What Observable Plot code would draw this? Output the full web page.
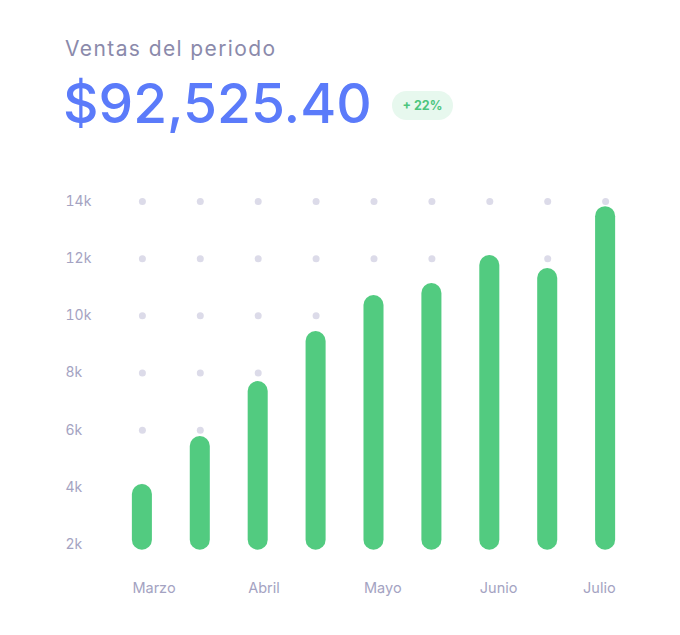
<!DOCTYPE html>
<html><head><meta charset="utf-8">
<script src="https://cdn.jsdelivr.net/npm/d3@7"></script>
<script src="https://cdn.jsdelivr.net/npm/@observablehq/plot@0.6"></script>
<style>
body{margin:0;background:#fff;font-family:Inter, "Open Sans", sans-serif;}
#wrap{position:relative;width:680px;height:635px;overflow:hidden;}
#title{position:absolute;left:65px;top:36px;font-size:21px;letter-spacing:1.4px;color:#8b8aab;white-space:nowrap;}
#total{position:absolute;left:63px;top:71px;font-size:55px;letter-spacing:0px;line-height:64px;color:#5b7bfa;font-weight:500;white-space:nowrap;}
#badge{position:absolute;left:392px;top:91px;width:61px;height:29px;border-radius:15px;background:#e7f8ee;color:#4cc57d;font-size:12.5px;font-weight:700;line-height:29px;text-align:center;}
#chart{position:absolute;left:0;top:160px;}
</style></head><body>
<div id="wrap"><div id="title"></div><div id="total"></div><div id="badge"></div><div id="chart"></div></div>
<script>
const titleText = "Ventas del periodo";
const totalText = "$92,525.40";
const badgeText = "+ 22%";
const periods = ["Mar-1","Mar-2","Abr-1","Abr-2","May-1","May-2","Jun-1","Jun-2","Jul-1"];
const sales = [4100, 5780, 7700, 9450, 10710, 11130, 12110, 11655, 13820];
const yTicks = [2000, 4000, 6000, 8000, 10000, 12000, 14000];
const monthPeriods = ["Mar-1","Abr-1","May-1","Jun-1"];
const monthLabels = ["Marzo","Abril","Mayo","Junio"];
const lastPeriod = ["Jul-1"];
const lastLabel = "Julio";
const baseline = 1800;

document.getElementById("title").textContent = titleText;
document.getElementById("total").textContent = totalText;
document.getElementById("badge").textContent = badgeText;

const data = periods.map((p, i) => ({period: p, value: sales[i]}));
const grid = periods.flatMap(p => yTicks.map(v => ({period: p, v})));
const labelOf = new Map(monthPeriods.map((p, i) => [p, monthLabels[i]]));

const chart = Plot.plot({
  width: 680,
  height: 475,
  marginLeft: 94,
  marginRight: 27,
  marginTop: 41,
  marginBottom: 91,
  style: {fontFamily: "Inter, 'Open Sans', sans-serif", color: "#a4a3c2", background: "#fff"},
  x: {domain: periods, padding: 0.654, align: 0.5, round: false, axis: null},
  y: {domain: [2000, 14000], axis: null},
  marks: [
    Plot.dot(grid, {x: "period", y: "v", r: 3.5, fill: "#dcdbe9", stroke: null}),
    Plot.barY(data, {x: "period", y1: baseline, y2: "value", fill: "#52cb80", rx: 10}),
    Plot.axisY(yTicks, {tickFormat: d => d / 1000 + "k", tickSize: 0, tickPadding: 0, textAnchor: "start", dx: -29, fontSize: 14, label: null}),
    Plot.axisX(monthPeriods, {tickFormat: d => labelOf.get(d), tickSize: 0, tickPadding: 38, textAnchor: "start", dx: -10, fontSize: 14.5, label: null}),
    Plot.axisX(lastPeriod, {tickFormat: () => lastLabel, tickSize: 0, tickPadding: 38, textAnchor: "end", dx: 10, fontSize: 14.5, label: null})
  ]
});
document.getElementById("chart").appendChild(chart);
</script>
</body></html>
